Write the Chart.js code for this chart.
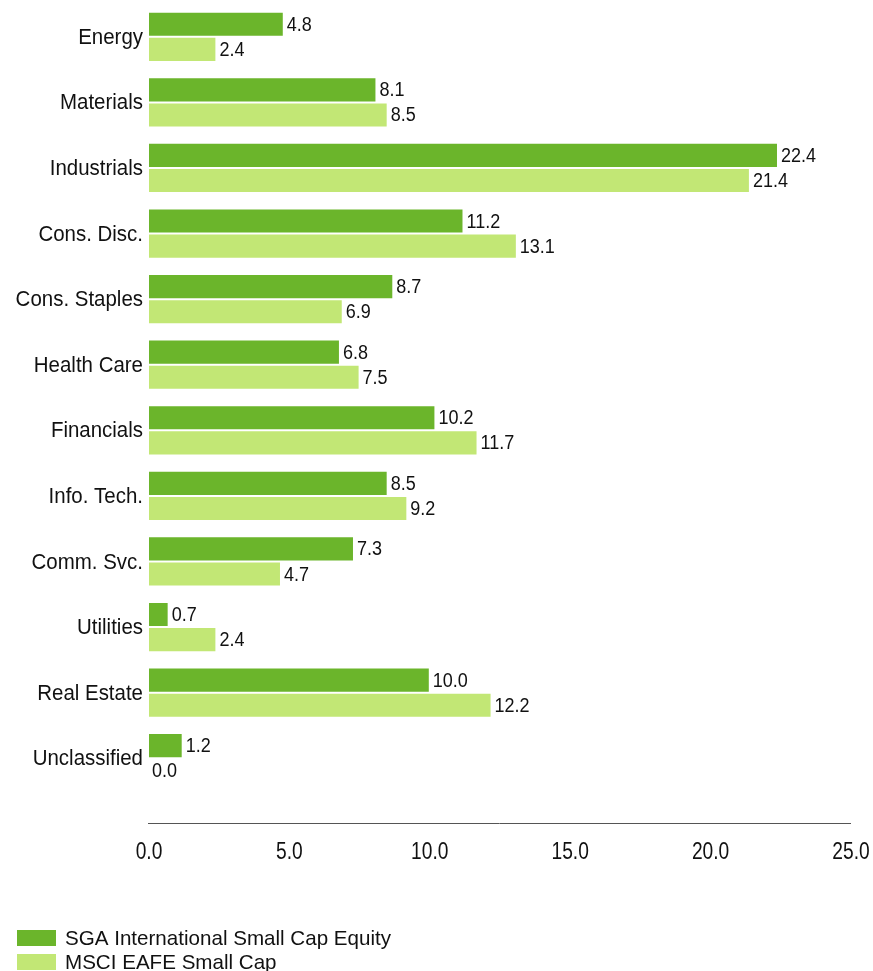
<!DOCTYPE html>
<html>
<head>
<meta charset="utf-8">
<script src="https://cdn.jsdelivr.net/npm/chart.js@4.4.1/dist/chart.umd.min.js"></script>
<style>
html,body{margin:0;padding:0;background:#fff;}
#wrap{width:873px;height:971px;position:relative;}
</style>
</head>
<body>
<div id="wrap"><canvas id="c" width="873" height="971"></canvas></div>
<script>
const categories = ["Energy","Materials","Industrials","Cons. Disc.","Cons. Staples","Health Care","Financials","Info. Tech.","Comm. Svc.","Utilities","Real Estate","Unclassified"];
const sgaValues = [4.8, 8.1, 22.4, 11.2, 8.7, 6.8, 10.2, 8.5, 7.3, 0.7, 10.0, 1.2];
const msciValues = [2.4, 8.5, 21.4, 13.1, 6.9, 7.5, 11.7, 9.2, 4.7, 2.4, 12.2, 0.0];
const seriesNames = ["SGA International Small Cap Equity", "MSCI EAFE Small Cap"];
const xTicks = [0, 5, 10, 15, 20, 25];

const FONT = "'Liberation Sans', Arial, sans-serif";
const DARK = '#6BB52B';
const LIGHT = '#C2E775';
const TEXT = '#111';

// draw text compressed horizontally (the reference uses a narrow face)
function narrowText(ctx, txt, x, y, size, sx, align) {
  ctx.save();
  ctx.font = size + "px " + FONT;
  ctx.textAlign = align;
  ctx.textBaseline = 'middle';
  ctx.fillStyle = TEXT;
  ctx.translate(x, y);
  ctx.scale(sx, 1);
  ctx.fillText(txt, 0, 0);
  ctx.restore();
}

const decorations = {
  id: 'decorations',
  afterDatasetsDraw(chart) {
    const ctx = chart.ctx;
    const xs = chart.scales.x;
    const ys = chart.scales.y;
    const area = chart.chartArea;

    // value labels
    chart.data.datasets.forEach((ds, di) => {
      const meta = chart.getDatasetMeta(di);
      meta.data.forEach((bar, i) => {
        narrowText(ctx, ds.data[i].toFixed(1), bar.x + 3, bar.y + 1, 20, 0.9, 'left');
      });
    });

    // category labels
    chart.data.labels.forEach((lab, i) => {
      narrowText(ctx, lab, area.left - 6, ys.getPixelForTick(i) + 1, 22, 0.93, 'right');
    });

    // x axis line
    const yLine = area.bottom + 32.5;
    ctx.save();
    ctx.strokeStyle = '#555';
    ctx.lineWidth = 1;
    ctx.beginPath();
    ctx.moveTo(xs.left - 1, yLine);
    ctx.lineTo(xs.right, yLine);
    ctx.stroke();
    ctx.restore();

    // x tick labels
    xTicks.forEach(v => {
      narrowText(ctx, v.toFixed(1), xs.getPixelForValue(v), yLine + 29, 24, 0.8, 'center');
    });

    // legend
    const rows = [938, 962];
    chart.data.datasets.forEach((ds, i) => {
      ctx.save();
      ctx.fillStyle = ds.backgroundColor;
      ctx.fillRect(17, rows[i] - 8, 39, 16);
      ctx.restore();
      narrowText(ctx, ds.label, 65, rows[i] + 1, 21, 0.98, 'left');
    });
  }
};

new Chart(document.getElementById('c'), {
  type: 'bar',
  data: {
    labels: categories,
    datasets: [
      { label: seriesNames[0], data: sgaValues, backgroundColor: DARK, borderColor: '#fff', borderWidth: {top:1,bottom:1,left:0,right:1}, borderSkipped: 'left', categoryPercentage: 0.765, barPercentage: 1.0 },
      { label: seriesNames[1], data: msciValues, backgroundColor: LIGHT, borderColor: '#fff', borderWidth: {top:1,bottom:1,left:0,right:1}, borderSkipped: 'left', categoryPercentage: 0.765, barPercentage: 1.0 }
    ]
  },
  options: {
    indexAxis: 'y',
    responsive: false,
    animation: false,
    layout: { padding: { left: 149, right: 22, top: 4, bottom: 180 } },
    plugins: { legend: { display: false }, tooltip: { enabled: false } },
    scales: {
      x: { display: false, min: 0, max: 25 },
      y: { display: false }
    }
  },
  plugins: [decorations]
});
</script>
</body>
</html>
